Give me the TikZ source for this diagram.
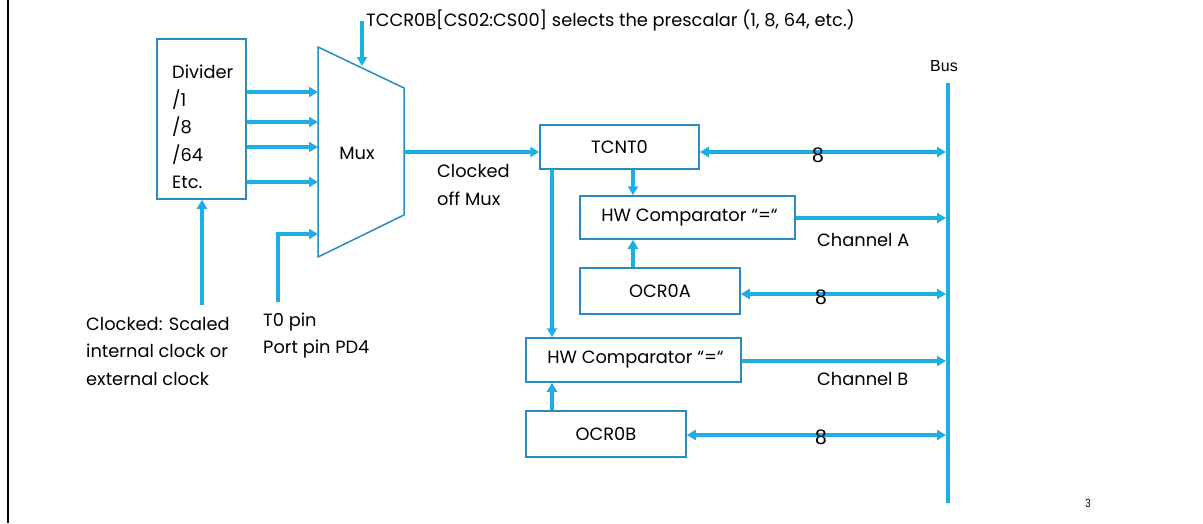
\documentclass[tikz,border=0pt]{standalone}
\usepackage{fontspec}
\setmainfont{Poppins}
\newfontfamily\arialf{Liberation Sans}
\usetikzlibrary{arrows.meta}
\definecolor{wire}{RGB}{30,174,228}
\definecolor{boxc}{RGB}{40,140,195}
\newcommand{\fs}{\fontsize{17.8}{27.5}\selectfont}
\begin{document}
\begin{tikzpicture}[x=1pt,y=-1pt,
  wirel/.style={draw=wire,line width=3.5pt},
  arr/.style={wirel,-{Triangle[length=9pt,width=10pt]}},
  darr/.style={wirel,{Triangle[length=9pt,width=10pt]}-{Triangle[length=9pt,width=10pt]}},
  blk/.style={draw=boxc,line width=1.5pt,fill=white,inner sep=0pt,font=\fs},
  lbl/.style={font=\fs,inner sep=0pt,align=left},
  eight/.style={font=\arialf\fontsize{21}{24}\selectfont,inner sep=0pt}]
\useasboundingbox (0,0) rectangle (1203,523);
\draw[black,line width=2pt] (8,0) -- (8,523);

% divider
\node[blk,minimum width=89pt,minimum height=160pt] (div) at (201.5,119) {};
\node[lbl,anchor=west] (divt) at (172,127) {Divider\\/1\\/8\\/64\\Etc.};

% mux
\coordinate (mtl) at (318,47);
\coordinate (mtr) at (404,88);
\coordinate (mbr) at (404,215);
\coordinate (mbl) at (318,257);
\draw[boxc,line width=1.5pt] (mtl) -- (mtr) -- (mbr) -- (mbl) -- cycle;
\node[lbl] (muxt) at (357,153) {Mux};
\coordinate (mi1) at (318,92);
\coordinate (mi2) at (318,122);
\coordinate (mi3) at (318,147);
\coordinate (mi4) at (318,182);
\coordinate (mi5) at (318,234);
\coordinate (mo) at (404,152);
\coordinate (msel) at (362,66);
\coordinate (selsrc) at (362,21);

\foreach \i in {1,2,3,4} \draw[arr] (div.east |- mi\i) -- (mi\i);

\node[lbl,anchor=west] (selt) at (366,20) {TCCR0B[CS02:CS00] selects the prescalar (1, 8, 64, etc.)};
\draw[arr] (selsrc) -- (msel);

% inputs
\coordinate (clkin) at (202,305);
\draw[arr] (clkin) -- (div.south -| clkin);
\coordinate (t0in) at (278,302);
\draw[arr] (t0in) |- (mi5);
\node[lbl,anchor=west] (clkt) at (86,351) {Clocked: Scaled\\internal clock or\\external clock};
\node[lbl,anchor=west] (t0t) at (263,335.5) {T0 pin\\Port pin PD4};

% timer blocks
\node[blk,minimum width=159pt,minimum height=44pt] (tcnt) at (619.5,147) {TCNT0};
\node[blk,minimum width=215pt,minimum height=43pt] (cmpa) at (687.5,217.5) {\hspace{4pt}HW Comparator “=“};
\node[blk,minimum width=160pt,minimum height=46pt] (ocra) at (660,291) {OCR0A};
\node[blk,minimum width=215pt,minimum height=44pt] (cmpb) at (633.5,360) {\hspace{4pt}HW Comparator “=“};
\node[blk,minimum width=160pt,minimum height=46pt] (ocrb) at (606,434) {OCR0B};

\draw[arr] (mo) -- (tcnt.west |- mo);
\node[lbl,anchor=west] (cmt) at (437,185) {Clocked\\off Mux};

% bus
\coordinate (bustop) at (948,83);
\coordinate (busbot) at (948,503);
\draw[wirel] (bustop) -- (busbot);
\node[font=\arialf\fontsize{16}{18}\selectfont,inner sep=0pt] (bust) at (944,66) {Bus};

\coordinate (b1) at (946,152);
\coordinate (b2) at (946,218);
\coordinate (b3) at (946,294);
\coordinate (b4) at (946,361);
\coordinate (b5) at (946,435);

\draw[darr] (tcnt.east |- b1) -- (b1);
\draw[arr] (cmpa.east |- b2) -- (b2);
\draw[darr] (ocra.east |- b3) -- (b3);
\draw[arr] (cmpb.east |- b4) -- (b4);
\draw[darr] (ocrb.east |- b5) -- (b5);

\node[eight] (e1) at (818,155) {8};
\node[eight] (e2) at (821,297) {8};
\node[eight] (e3) at (821,437) {8};
\node[lbl,anchor=west] (cha) at (817,240) {Channel A};
\node[lbl,anchor=west] (chb) at (817,379) {Channel B};

% vertical links
\coordinate (xa) at (633,0);
\coordinate (xb) at (552,0);
\draw[arr] (tcnt.south -| xa) -- (cmpa.north -| xa);
\draw[arr] (ocra.north -| xa) -- (cmpa.south -| xa);
\draw[arr] (tcnt.south -| xb) -- (cmpb.north -| xb);
\draw[arr] (ocrb.north -| xb) -- (cmpb.south -| xb);

\node[font=\arialf\fontsize{12}{14}\selectfont,inner sep=0pt,xscale=0.8] (pg) at (1088,503) {3};
\end{tikzpicture}
\end{document}
